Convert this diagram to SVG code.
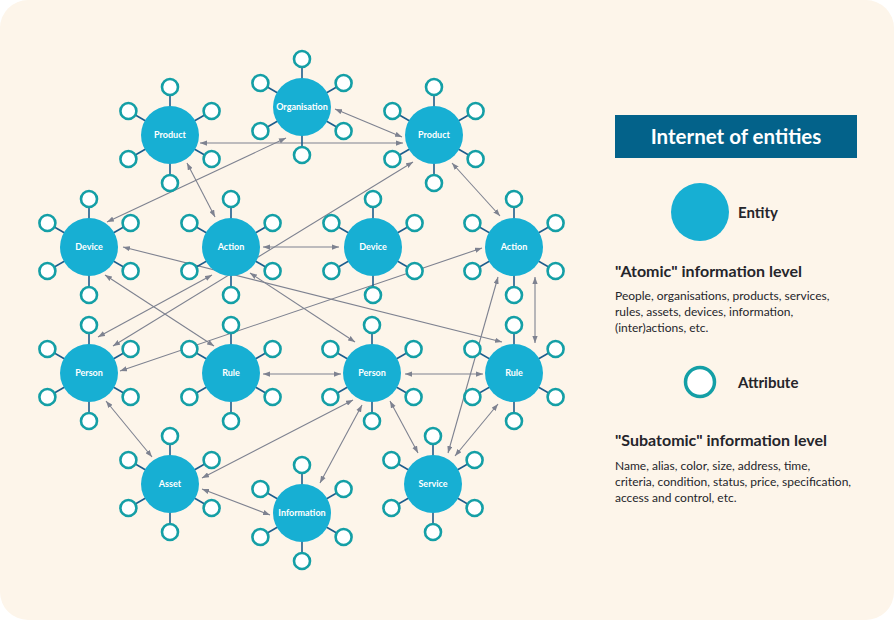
<svg xmlns="http://www.w3.org/2000/svg" xmlns:xlink="http://www.w3.org/1999/xlink" width="894" height="620" viewBox="0 0 894 620">
<style>
.ent{fill:#17AFD3}
.lbl{font-family:Lato,"Liberation Sans",sans-serif;font-weight:700;font-size:9px;fill:#fff;text-anchor:middle}
.stick{stroke:#1D5D8C;stroke-width:1.6}
.attr{fill:#fff;stroke:#149FA6;stroke-width:2.6}
.con line{stroke:#7E8290;stroke-width:1.1;marker-start:url(#ah);marker-end:url(#ah)}
.h1{font-family:Lato,"Liberation Sans",sans-serif;font-weight:700;font-size:20.5px;fill:#fff;text-anchor:middle}
.h2{font-family:Lato,"Liberation Sans",sans-serif;font-weight:700;font-size:15px;fill:#25252B}
.h3{font-family:Lato,"Liberation Sans",sans-serif;font-weight:700;font-size:16px;fill:#25252B}
.body{font-family:Lato,"Liberation Sans",sans-serif;font-size:12px;fill:#25252B}
</style>
<defs>
<marker id="ah" viewBox="0 0 8 6" markerWidth="7" markerHeight="5.5" refX="8" refY="3" orient="auto-start-reverse" markerUnits="userSpaceOnUse">
<path d="M0,0 L8,3 L0,6 z" fill="#7E8290"/>
</marker>
<g id="hub">
<line class="stick" x1="0" y1="0" x2="0" y2="-48"/>
<line class="stick" x1="0" y1="0" x2="41.6" y2="-24"/>
<line class="stick" x1="0" y1="0" x2="41.6" y2="24"/>
<line class="stick" x1="0" y1="0" x2="0" y2="48"/>
<line class="stick" x1="0" y1="0" x2="-41.6" y2="24"/>
<line class="stick" x1="0" y1="0" x2="-41.6" y2="-24"/>
<circle class="attr" cx="0" cy="-48" r="8"/>
<circle class="attr" cx="41.6" cy="-24" r="8"/>
<circle class="attr" cx="41.6" cy="24" r="8"/>
<circle class="attr" cx="0" cy="48" r="8"/>
<circle class="attr" cx="-41.6" cy="24" r="8"/>
<circle class="attr" cx="-41.6" cy="-24" r="8"/>
<circle class="ent" cx="0" cy="0" r="29"/>
</g>
</defs>
<rect x="0" y="0" width="894" height="620" rx="28" fill="#FDF5EA"/>

<g id="connectors" class="con">
<line x1="200" y1="143" x2="403" y2="143"/>
<line x1="335" y1="109" x2="402" y2="137"/>
<line x1="107" y1="222" x2="286" y2="138"/>
<line x1="187" y1="163" x2="215" y2="217"/>
<line x1="113" y1="346" x2="413" y2="162"/>
<line x1="123" y1="247" x2="502" y2="342"/>
<line x1="105" y1="275" x2="214" y2="346"/>
<line x1="263" y1="247" x2="339" y2="247"/>
<line x1="98" y1="337" x2="212" y2="275"/>
<line x1="120" y1="371" x2="482" y2="248"/>
<line x1="250" y1="273" x2="355" y2="342"/>
<line x1="452" y1="163" x2="500" y2="216"/>
<line x1="535" y1="277" x2="535" y2="343"/>
<line x1="405" y1="374" x2="483" y2="374"/>
<line x1="263" y1="374" x2="341" y2="374"/>
<line x1="448" y1="453" x2="498" y2="277"/>
<line x1="455" y1="456" x2="498" y2="404"/>
<line x1="390" y1="401" x2="418" y2="453"/>
<line x1="106" y1="401" x2="152" y2="457"/>
<line x1="202" y1="478" x2="353" y2="400"/>
<line x1="320" y1="483" x2="362" y2="405"/>
<line x1="202" y1="489" x2="270" y2="515"/>
</g>

<g id="organisation"><use xlink:href="#hub" x="302" y="107"/><text class="lbl" x="302" y="110">Organisation</text></g>
<g id="product-left"><use xlink:href="#hub" x="170" y="135"/><text class="lbl" x="170" y="138">Product</text></g>
<g id="product-right"><use xlink:href="#hub" x="434" y="135"/><text class="lbl" x="434" y="138">Product</text></g>
<g id="device-left"><use xlink:href="#hub" x="89" y="247"/><text class="lbl" x="89" y="250">Device</text></g>
<g id="action-left"><use xlink:href="#hub" x="231" y="247"/><text class="lbl" x="231" y="250">Action</text></g>
<g id="device-mid"><use xlink:href="#hub" x="373" y="247"/><text class="lbl" x="373" y="250">Device</text></g>
<g id="action-right"><use xlink:href="#hub" x="514" y="247"/><text class="lbl" x="514" y="250">Action</text></g>
<g id="person-left"><use xlink:href="#hub" x="89" y="373"/><text class="lbl" x="89" y="376">Person</text></g>
<g id="rule-left"><use xlink:href="#hub" x="231" y="373"/><text class="lbl" x="231" y="376">Rule</text></g>
<g id="person-mid"><use xlink:href="#hub" x="372" y="373"/><text class="lbl" x="372" y="376">Person</text></g>
<g id="rule-right"><use xlink:href="#hub" x="514" y="373"/><text class="lbl" x="514" y="376">Rule</text></g>
<g id="asset"><use xlink:href="#hub" x="170" y="484"/><text class="lbl" x="170" y="487">Asset</text></g>
<g id="information"><use xlink:href="#hub" x="302" y="513"/><text class="lbl" x="302" y="516">Information</text></g>
<g id="service"><use xlink:href="#hub" x="433" y="484"/><text class="lbl" x="433" y="487">Service</text></g>

<g id="legend">
<rect x="615" y="115" width="242" height="43" fill="#03628A"/>
<text class="h1" x="736" y="144">Internet of entities</text>
<circle class="ent" cx="700" cy="212" r="29"/>
<text class="h2" x="738" y="218">Entity</text>
<text class="h3" x="615" y="277">"Atomic" information level</text>
<text class="body" x="615" y="300">People, organisations, products, services,</text>
<text class="body" x="615" y="316">rules, assets, devices, information,</text>
<text class="body" x="615" y="332">(inter)actions, etc.</text>
<circle cx="700" cy="382" r="14.5" fill="#fff" stroke="#149FA6" stroke-width="3.5"/>
<text class="h2" x="738" y="388">Attribute</text>
<text class="h3" x="615" y="446">"Subatomic" information level</text>
<text class="body" x="615" y="470">Name, alias, color, size, address, time,</text>
<text class="body" x="615" y="486">criteria, condition, status, price, specification,</text>
<text class="body" x="615" y="502">access and control, etc.</text>
</g>
</svg>
